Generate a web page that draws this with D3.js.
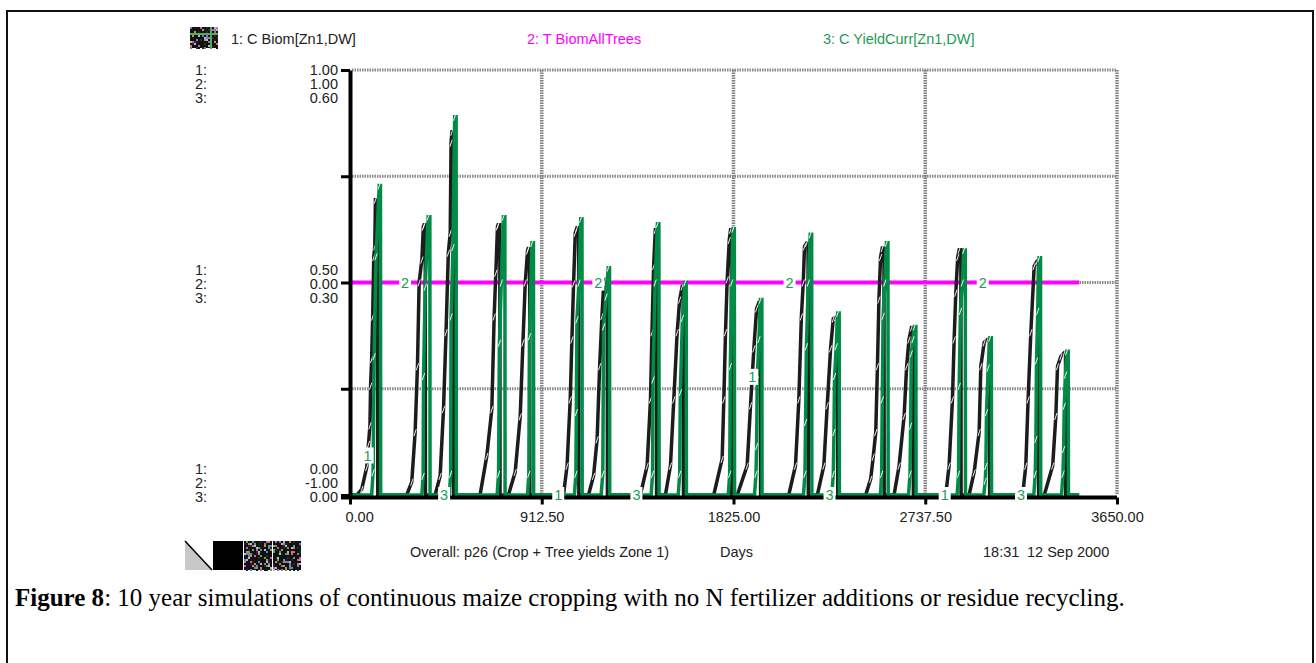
<!DOCTYPE html>
<html>
<head>
<meta charset="utf-8">
<script src="https://cdn.jsdelivr.net/npm/d3@7"></script>
<style>
  body { margin: 0; background: #fff; }
  svg { display: block; font-family: "Liberation Sans", Arial, sans-serif; }
</style>
</head>
<body>
<svg id="chart" width="1316" height="663"></svg>
<script>

//////// DATA ////////
var xTicks = [0, 912.5, 1825, 2737.5, 3650];
var endDay = 3470;

var legendNames = ["1: C Biom[Zn1,DW]", "2: T BiomAllTrees", "3: C YieldCurr[Zn1,DW]"];
var topLabels = ["1.00", "1.00", "0.60"];
var midLabels = ["0.50", "0.00", "0.30"];
var botLabels = ["0.00", "-1.00", "0.00"];

// 1: C Biom[Zn1,DW]  (day, value) per crop season
var biomSeasons = [
  [[33,0],[56,0.014],[80,0.066],[88,0.12],[95,0.164],[98,0.257],[103,0.32],[108,0.42],[113,0.56],[118,0.585],[121,0.695],[131,0.695],[132,0]],
  [[270,0],[294,0.031],[310,0.148],[321,0.303],[329,0.5],[342,0.554],[349,0.631],[353,0.636],[358,0.636],[359,0]],
  [[405,0],[429,0.045],[445,0.202],[457,0.383],[468,0.57],[477,0.617],[481,0.829],[485,0.855],[492,0.855],[493,0]],
  [[619,0],[651,0.092],[675,0.202],[686,0.42],[694,0.523],[702,0.632],[705,0.636],[713,0.636],[714,0]],
  [[754,0],[786,0.054],[810,0.185],[823,0.359],[834,0.5],[845,0.575],[848,0.58],[855,0.58],[856,0]],
  [[1016,0],[1033,0.069],[1048,0.225],[1056,0.366],[1064,0.498],[1072,0.617],[1080,0.629],[1088,0.629],[1089,0]],
  [[1135,0],[1159,0.045],[1176,0.131],[1188,0.303],[1199,0.421],[1207,0.491],[1215,0.507],[1224,0.507],[1225,0]],
  [[1382,0],[1414,0.069],[1430,0.225],[1437,0.383],[1445,0.539],[1453,0.624],[1458,0.624],[1459,0]],
  [[1501,0],[1525,0.069],[1541,0.225],[1557,0.383],[1569,0.46],[1581,0.491],[1586,0.491],[1587,0]],
  [[1731,0],[1771,0.085],[1779,0.225],[1787,0.383],[1795,0.507],[1805,0.6],[1811,0.624],[1815,0.624],[1816,0]],
  [[1843,0],[1890,0.069],[1906,0.211],[1922,0.345],[1935,0.439],[1946,0.453],[1953,0.453],[1954,0]],
  [[2088,0],[2120,0.069],[2136,0.225],[2148,0.42],[2157,0.5],[2163,0.585],[2173,0.593],[2180,0.593],[2181,0]],
  [[2224,0],[2255,0.069],[2271,0.211],[2287,0.345],[2300,0.415],[2311,0.418],[2320,0.418],[2321,0]],
  [[2454,0],[2478,0.038],[2490,0.09],[2502,0.148],[2510,0.303],[2517,0.46],[2525,0.56],[2533,0.581],[2541,0.581],[2542,0]],
  [[2589,0],[2613,0.069],[2637,0.186],[2649,0.303],[2660,0.366],[2672,0.394],[2680,0.394],[2681,0]],
  [[2835,0],[2851,0.069],[2867,0.225],[2875,0.366],[2883,0.476],[2892,0.56],[2899,0.577],[2907,0.577],[2908,0]],
  [[2946,0],[2970,0.053],[2994,0.148],[3002,0.303],[3018,0.359],[3034,0.366],[3043,0.366],[3044,0]],
  [[3201,0],[3216,0.069],[3227,0.225],[3240,0.383],[3256,0.539],[3269,0.55],[3276,0.55],[3277,0]],
  [[3304,0],[3344,0.069],[3359,0.186],[3367,0.303],[3383,0.326],[3399,0.335],[3405,0.335],[3406,0]]
];

// 3: C YieldCurr[Zn1,DW]
var yieldSeasons = [
  [[103,0],[110,0.032],[115,0.196],[124,0.337],[139,0.437],[145,0.437],[146,0]],
  [[342,0],[348,0.027],[350,0.168],[358,0.294],[372,0.393],[380,0.393],[381,0]],
  [[473,0],[479,0.03],[481,0.252],[490,0.35],[498,0.534],[505,0.534],[506,0]],
  [[700,0],[707,0.03],[711,0.215],[720,0.3],[730,0.393],[737,0.393],[738,0]],
  [[845,0],[851,0.03],[854,0.224],[866,0.356],[873,0.356],[874,0]],
  [[1068,0],[1075,0.03],[1077,0.117],[1080,0.248],[1090,0.3],[1098,0.39],[1104,0.39],[1105,0]],
  [[1195,0],[1203,0.03],[1207,0.238],[1218,0.28],[1229,0.321],[1235,0.321],[1236,0]],
  [[1433,0],[1440,0.03],[1442,0.163],[1452,0.3],[1463,0.383],[1470,0.383],[1471,0]],
  [[1562,0],[1569,0.03],[1572,0.145],[1582,0.25],[1594,0.3],[1600,0.3],[1601,0]],
  [[1800,0],[1807,0.03],[1810,0.182],[1816,0.3],[1823,0.376],[1829,0.376],[1830,0]],
  [[1925,0],[1932,0.03],[1935,0.069],[1938,0.163],[1946,0.22],[1953,0.276],[1960,0.276],[1961,0]],
  [[2158,0],[2165,0.03],[2168,0.103],[2172,0.21],[2181,0.3],[2190,0.368],[2197,0.368],[2198,0]],
  [[2293,0],[2300,0.03],[2303,0.089],[2306,0.168],[2314,0.21],[2321,0.257],[2328,0.257],[2329,0]],
  [[2524,0],[2530,0.03],[2533,0.135],[2537,0.253],[2545,0.3],[2553,0.356],[2560,0.356],[2561,0]],
  [[2658,0],[2665,0.03],[2668,0.098],[2671,0.2],[2679,0.22],[2686,0.238],[2693,0.238],[2694,0]],
  [[2889,0],[2896,0.03],[2899,0.154],[2905,0.26],[2914,0.3],[2921,0.346],[2928,0.346],[2929,0]],
  [[3016,0],[3023,0.02],[3026,0.041],[3029,0.117],[3037,0.18],[3045,0.222],[3052,0.222],[3053,0]],
  [[3254,0],[3261,0.03],[3264,0.079],[3267,0.19],[3273,0.26],[3279,0.335],[3286,0.335],[3287,0]],
  [[3386,0],[3393,0.03],[3396,0.065],[3399,0.126],[3405,0.17],[3411,0.203],[3418,0.203],[3419,0]]
];

// 2: T BiomAllTrees (no trees -> zero)
var treeBiom = [[0, 0], [endDay, 0]];

// series id markers (days)
var marker1Days = [84, 991, 1914, 2830];
var marker2Days = [262, 1182, 2092, 3011];
var marker3Days = [448, 1363, 2282, 3193];


//////// SCALES ////////
var x = d3.scaleLinear().domain([0, 3650]).range([350, 1117]);
var y1 = d3.scaleLinear().domain([0, 1]).range([495, 70]);
var y2 = d3.scaleLinear().domain([-1, 1]).range([495, 70]);
var y3 = d3.scaleLinear().domain([0, 0.6]).range([495, 70]);

var black = "#1c1c1c", magenta = "#ff00ff", green = "#008c46", greenText = "#1f9a55", textCol = "#222";
var fs = 14.5;

function flatten(seasons) {
    var pts = [[0, 0]];
    seasons.forEach(function(s) { pts = pts.concat(s); });
    pts.push([endDay, 0]);
    return pts;
}
var biomSeries = flatten(biomSeasons);
var yieldSeries = flatten(yieldSeasons);

function valueAt(series, day) {
    var i = d3.bisector(function(d) { return d[0]; }).right(series, day);
    if (i <= 0) return series[0][1];
    if (i >= series.length) return series[series.length - 1][1];
    var a = series[i - 1], b = series[i];
    return a[1] + (b[1] - a[1]) * (day - a[0]) / (b[0] - a[0]);
}


//////// CANVAS ////////
var svg = d3.select("#chart");

// frame
svg.append("path")
    .attr("d", "M7,663V11H1313V663")
    .attr("fill", "none")
    .attr("stroke", "#111")
    .attr("stroke-width", 2);

// GRID
var grid = svg.append("g");
grid.selectAll("line.h")
    .data([0.25, 0.5, 0.75, 1])
    .enter().append("line")
        .attr("x1", 352).attr("x2", x(3650))
        .attr("y1", function(d) { return y1(d); })
        .attr("y2", function(d) { return y1(d); })
        .attr("stroke", "#8a8a8a").attr("stroke-width", 3)
        .attr("stroke-dasharray", "1.5,1");
grid.selectAll("line.v")
    .data(xTicks.slice(1))
    .enter().append("line")
        .attr("x1", function(d) { return x(d); })
        .attr("x2", function(d) { return x(d); })
        .attr("y1", 70).attr("y2", 495)
        .attr("stroke", "#808080").attr("stroke-width", 3.5)
        .attr("stroke-dasharray", "1.5,1");

// LINES
var line = function(ys) {
    return d3.line()
        .x(function(d) { return x(d[0]); })
        .y(function(d) { return ys(d[1]); });
};

svg.append("path")
    .datum(treeBiom)
    .attr("d", line(y2))
    .attr("fill", "none").attr("stroke", magenta).attr("stroke-width", 4);

function drawSeries(series, ys, col) {
    svg.append("path")
        .datum(series)
        .attr("d", line(ys))
        .attr("fill", "none").attr("stroke", col).attr("stroke-width", 3.5)
        .attr("stroke-linejoin", "miter");
    // thin white pen breaks at the rising steps
    var steps = series.filter(function(d, i) {
        return i > 0 && i < series.length - 1 && d[1] > 0 && d[1] > series[i - 1][1] && series[i + 1][1] > 0;
    });
    svg.append("g").selectAll("line")
        .data(steps)
        .enter().append("line")
            .attr("x1", function(d) { return x(d[0]) - 1.2; })
            .attr("y1", function(d) { return ys(d[1]) + 4; })
            .attr("x2", function(d) { return x(d[0]) + 1.2; })
            .attr("y2", function(d) { return ys(d[1]) - 3; })
            .attr("stroke", "#fff").attr("stroke-width", 0.9);
}
drawSeries(biomSeries, y1, black);
drawSeries(yieldSeries, y3, green);

// AXES
var yAxis = svg.append("g")
    .attr("transform", "translate(350,0)")
    .call(d3.axisLeft(y1).tickValues([0, 0.25, 0.5, 0.75, 1]).tickSize(9).tickSizeOuter(0).tickFormat(""));
yAxis.select(".domain").attr("stroke", "#000").attr("stroke-width", 4);
yAxis.selectAll(".tick line").attr("stroke", "#000").attr("stroke-width", 3);

var xAxis = svg.append("g")
    .attr("transform", "translate(0,497.5)")
    .call(d3.axisBottom(x).tickValues(xTicks).tickSize(7).tickSizeOuter(0).tickFormat(d3.format(".2f")));
xAxis.select(".domain").attr("stroke", "#000").attr("stroke-width", 4)
    .attr("d", "M341,0H" + x(3650));
xAxis.selectAll(".tick line").attr("stroke", "#000").attr("stroke-width", 3);
xAxis.selectAll(".tick text")
    .attr("y", 14)
    .attr("font-size", fs)
    .attr("font-family", "Liberation Sans, Arial, sans-serif")
    .attr("fill", textCol);
xAxis.select(".tick text").attr("text-anchor", "start").attr("x", -5);

// SERIES MARKERS
function marker(days, label, valFn) {
    var g = svg.append("g");
    var m = g.selectAll("g").data(days).enter().append("g")
        .attr("transform", function(d) { return "translate(" + x(d) + "," + valFn(d) + ")"; });
    m.append("rect").attr("x", -6).attr("y", -8).attr("width", 12).attr("height", 16).attr("fill", "#fff");
    m.append("text").text(label)
        .attr("text-anchor", "middle").attr("dy", "0.36em")
        .attr("font-size", fs).attr("fill", greenText);
}
marker(marker1Days, "1", function(d) { return y1(valueAt(biomSeries, d)); });
marker(marker2Days, "2", function(d) { return y2(valueAt(treeBiom, d)); });
marker(marker3Days, "3", function(d) { return y3(valueAt(yieldSeries, d)); });

// LEFT SCALE LABELS
function scaleGroup(labels, centerFirst) {
    var g = svg.append("g").attr("font-size", fs).attr("fill", textCol);
    labels.forEach(function(l, i) {
        var yy = centerFirst + i * 14 + 5.2;
        g.append("text").attr("x", 195).attr("y", yy).text((i + 1) + ":");
        g.append("text").attr("x", 338).attr("y", yy).attr("text-anchor", "end").text(l);
    });
}
scaleGroup(topLabels, 70);
scaleGroup(midLabels, 270);
scaleGroup(botLabels, 469);

// LEGEND ICONS
var palette = ["#000", "#111", "#000", "#2a2a2a", "#000", "#5a5", "#000", "#c5c", "#000", "#58c", "#000", "#bbb", "#000", "#111", "#c84", "#000", "#222"];
function noisyIcon(x0, y0, w, h, seed) {
    var g = svg.append("g");
    g.append("rect").attr("x", x0).attr("y", y0).attr("width", w).attr("height", h).attr("fill", "#111");
    for (var i = 0; i < w; i += 2) {
        for (var j = 0; j < h; j += 2) {
            var c = palette[(i * 7 + j * 13 + seed * (i + 3) * (j + 1) + i * j) % palette.length];
            if (c !== "#000") {
                g.append("rect").attr("x", x0 + i).attr("y", y0 + j).attr("width", 2).attr("height", 2).attr("fill", c);
            }
        }
    }
}
noisyIcon(190, 27, 28, 21, 3);

var legendX = [231, 527, 823];
var legendCol = [textCol, magenta, greenText];
svg.append("g").selectAll("text")
    .data(legendNames)
    .enter().append("text")
        .attr("x", function(d, i) { return legendX[i]; })
        .attr("y", 44)
        .attr("font-size", fs)
        .attr("fill", function(d, i) { return legendCol[i]; })
        .text(function(d) { return d; });

// BOTTOM TOOLBAR
var tb = svg.append("g");
tb.append("path").attr("d", "M185,541H212V570Z").attr("fill", "#fff");
tb.append("path").attr("d", "M185,541L212,570H185Z").attr("fill", "#c8c8c8");
tb.append("line").attr("x1", 185).attr("y1", 541).attr("x2", 212).attr("y2", 570).attr("stroke", "#000").attr("stroke-width", 1.5);
tb.append("rect").attr("x", 213).attr("y", 541).attr("width", 30).attr("height", 29).attr("fill", "#000");
noisyIcon(244, 541, 28, 29, 5);
noisyIcon(273, 541, 28, 29, 2);

var footer = svg.append("g").attr("font-size", fs).attr("fill", textCol);
footer.append("text").attr("x", 410).attr("y", 557).text("Overall: p26 (Crop + Tree yields Zone 1)");
footer.append("text").attr("x", 720).attr("y", 557).text("Days");
footer.append("text").attr("x", 983).attr("y", 557).text("18:31");
footer.append("text").attr("x", 1027).attr("y", 557).text("12 Sep 2000");

// CAPTION
var cap = svg.append("text")
    .attr("x", 15).attr("y", 606)
    .attr("font-family", "Liberation Serif, Times New Roman, serif")
    .attr("font-size", 25)
    .attr("fill", "#000");
cap.append("tspan").attr("font-weight", "bold").text("Figure 8");
cap.append("tspan")
    .text(": 10 year simulations of continuous maize cropping with no N fertilizer additions or residue recycling.");

</script>
</body>
</html>
